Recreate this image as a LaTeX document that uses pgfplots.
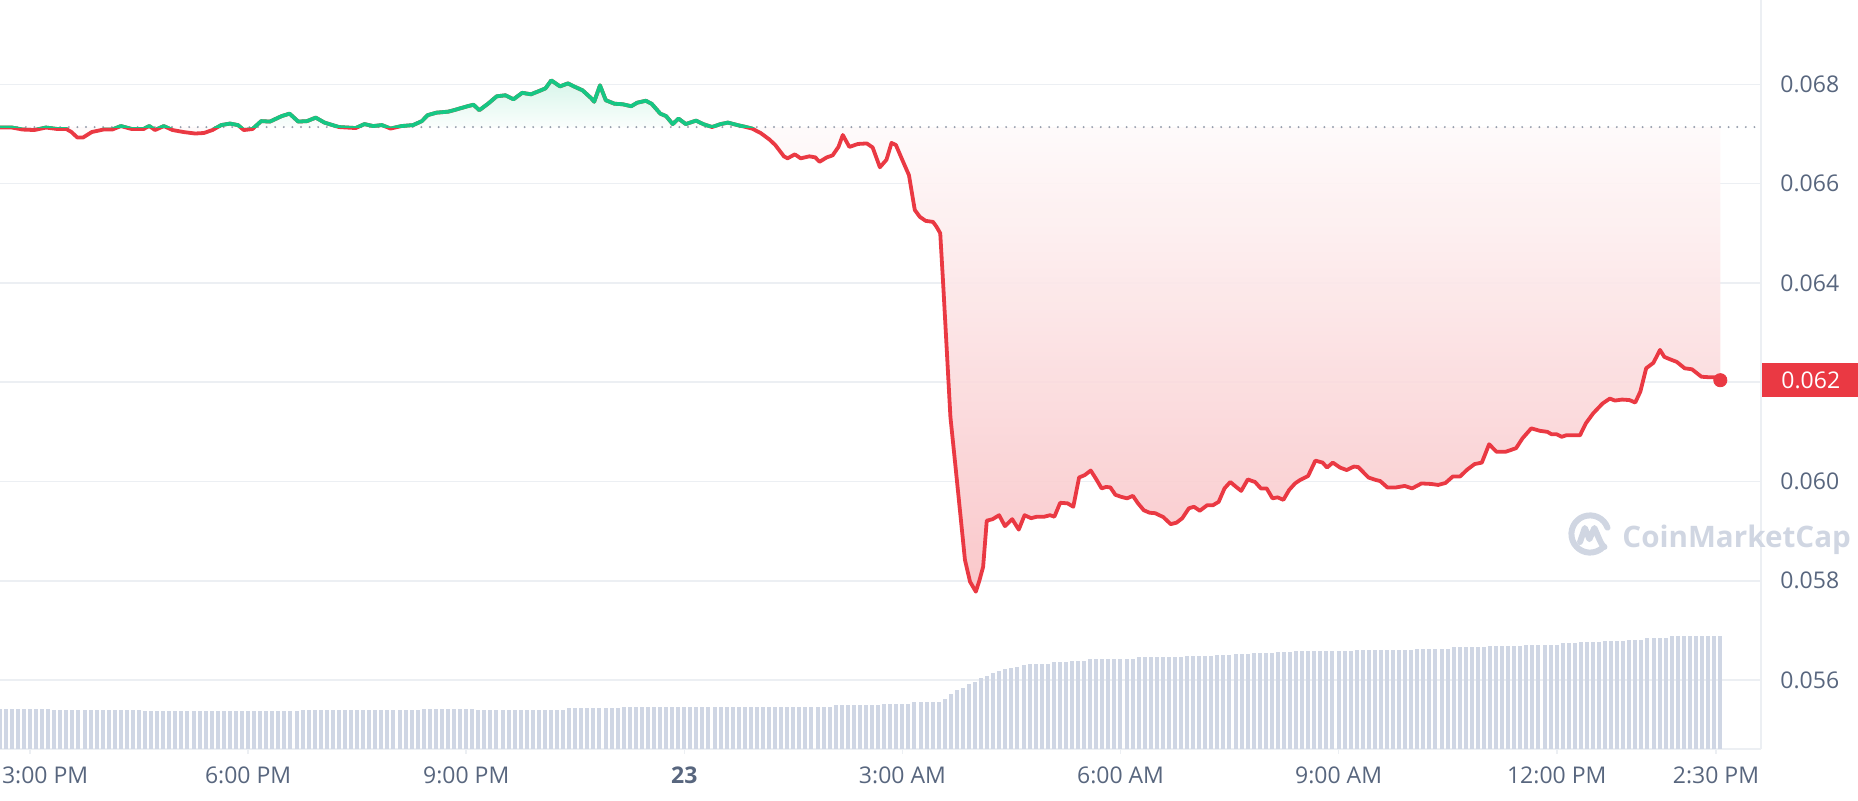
\documentclass[border=0pt]{standalone}
\usepackage{pgfplots}
\pgfplotsset{compat=1.18}
\usepackage{pgfplotstable}
\usepackage{fontspec}
\setmainfont{Open Sans}
\definecolor{cmcred}{RGB}{234,57,67}
\definecolor{cmcgreen}{RGB}{22,199,132}
\definecolor{cmcgray}{RGB}{88,102,126}
\definecolor{cmcgrid}{RGB}{236,239,243}
\definecolor{cmcvol}{RGB}{207,214,228}
\definecolor{cmcdot}{RGB}{150,158,172}
\definecolor{cmcwm}{RGB}{208,214,226}

\pgfplotstableread{
h p
-0.42 0.06713
-0.25 0.06713
-0.10 0.06709
0.06 0.06708
0.22 0.06713
0.38 0.06710
0.50 0.06710
0.57 0.06704
0.65 0.06693
0.73 0.06693
0.85 0.06704
1.01 0.06709
1.13 0.06709
1.25 0.06716
1.40 0.06710
1.56 0.06710
1.64 0.06716
1.72 0.06708
1.84 0.06716
1.96 0.06708
2.11 0.06704
2.27 0.06701
2.39 0.06702
2.51 0.06708
2.63 0.06718
2.75 0.06721
2.86 0.06718
2.94 0.06708
3.06 0.06710
3.18 0.06726
3.30 0.06725
3.46 0.06736
3.57 0.06741
3.69 0.06725
3.81 0.06726
3.93 0.06733
4.05 0.06723
4.25 0.06714
4.48 0.06712
4.60 0.06720
4.72 0.06716
4.84 0.06718
4.96 0.06711
5.11 0.06716
5.27 0.06718
5.39 0.06726
5.47 0.06738
5.59 0.06743
5.75 0.06745
5.83 0.06748
5.90 0.06751
6.02 0.06756
6.10 0.06759
6.18 0.06748
6.30 0.06761
6.42 0.06776
6.54 0.06778
6.65 0.06770
6.77 0.06783
6.89 0.06780
7.01 0.06787
7.09 0.06792
7.17 0.06808
7.29 0.06796
7.40 0.06802
7.48 0.06796
7.60 0.06788
7.72 0.06772
7.76 0.06765
7.84 0.06798
7.92 0.06768
8.04 0.06761
8.15 0.06760
8.27 0.06756
8.35 0.06763
8.47 0.06767
8.55 0.06761
8.67 0.06741
8.75 0.06736
8.84 0.06720
8.92 0.06731
9.02 0.06720
9.16 0.06727
9.26 0.06720
9.38 0.06714
9.50 0.06720
9.60 0.06723
9.73 0.06718
9.85 0.06714
9.93 0.06711
10.05 0.06702
10.17 0.06689
10.25 0.06678
10.37 0.06655
10.42 0.06651
10.52 0.06659
10.60 0.06651
10.72 0.06655
10.80 0.06653
10.86 0.06644
10.96 0.06653
11.04 0.06657
11.12 0.06674
11.18 0.06698
11.27 0.06674
11.39 0.06680
11.51 0.06681
11.59 0.06673
11.69 0.06633
11.78 0.06648
11.85 0.06682
11.91 0.06678
11.98 0.06654
12.09 0.06617
12.14 0.06573
12.17 0.06547
12.24 0.06533
12.32 0.06525
12.42 0.06523
12.47 0.06513
12.52 0.06500
12.56 0.06399
12.61 0.06265
12.66 0.06130
12.73 0.06030
12.80 0.05929
12.86 0.05842
12.93 0.05798
13.01 0.05778
13.06 0.05801
13.11 0.05828
13.16 0.05921
13.24 0.05924
13.33 0.05932
13.41 0.05910
13.51 0.05924
13.60 0.05903
13.68 0.05932
13.77 0.05926
13.85 0.05929
13.95 0.05929
14.03 0.05932
14.09 0.05929
14.17 0.05957
14.27 0.05956
14.35 0.05949
14.43 0.06008
14.51 0.06013
14.59 0.06022
14.66 0.06006
14.74 0.05986
14.80 0.05989
14.86 0.05988
14.93 0.05973
15.01 0.05969
15.09 0.05966
15.17 0.05971
15.24 0.05956
15.32 0.05942
15.40 0.05937
15.48 0.05936
15.59 0.05928
15.69 0.05914
15.77 0.05917
15.85 0.05926
15.94 0.05946
16.01 0.05949
16.09 0.05941
16.19 0.05952
16.27 0.05952
16.35 0.05959
16.43 0.05986
16.51 0.05999
16.59 0.05989
16.66 0.05981
16.75 0.06004
16.85 0.05999
16.93 0.05986
17.01 0.05986
17.09 0.05966
17.16 0.05968
17.24 0.05963
17.32 0.05983
17.40 0.05996
17.47 0.06003
17.58 0.06011
17.68 0.06042
17.78 0.06038
17.84 0.06028
17.92 0.06038
18.02 0.06028
18.11 0.06023
18.21 0.06030
18.27 0.06029
18.41 0.06008
18.51 0.06003
18.57 0.06001
18.67 0.05988
18.79 0.05988
18.91 0.05991
19.01 0.05986
19.14 0.05996
19.27 0.05995
19.37 0.05993
19.47 0.05997
19.57 0.06010
19.67 0.06010
19.77 0.06024
19.87 0.06035
19.97 0.06038
20.07 0.06075
20.17 0.06060
20.30 0.06060
20.44 0.06067
20.53 0.06087
20.65 0.06107
20.77 0.06102
20.87 0.06100
20.93 0.06095
21.00 0.06095
21.07 0.06090
21.13 0.06093
21.23 0.06093
21.32 0.06093
21.40 0.06117
21.50 0.06137
21.63 0.06157
21.73 0.06167
21.80 0.06163
21.90 0.06165
22.00 0.06164
22.08 0.06159
22.15 0.06181
22.23 0.06228
22.33 0.06239
22.42 0.06265
22.48 0.06251
22.56 0.06246
22.65 0.06241
22.76 0.06228
22.86 0.06226
22.99 0.06211
23.09 0.06210
23.17 0.06210
23.25 0.06204
}\price

\pgfplotsset{
  cmcbase/.style={at={(0,0)}, anchor=south west, scale only axis,
    width=880.5pt, height=374.5pt, xmin=-0.413, xmax=23.81},
  cmcline/.style={line width=1.9pt, line join=round, line cap=round},
}

\begin{document}
\begin{tikzpicture}
% ---------------- frame, grid and ticks ----------------
\begin{axis}[
  cmcbase, ymin=0.05461, ymax=0.06970,
  axis x line*=bottom, axis y line*=right,
  axis line style={draw=cmcgrid, line width=0.8pt, -},
  ymajorgrids, grid style={draw=cmcgrid, line width=0.8pt},
  ytick={0.056,0.058,0.060,0.062,0.064,0.066,0.068},
  yticklabels={0.056,0.058,0.060,0.062,0.064,0.066,0.068},
  xtick={0,3,6,9,12,15,18,21,23.19},
  xticklabels={\makebox[0pt][l]{\hspace*{-14pt}3:00 PM},6:00 PM,9:00 PM,\textbf{23},3:00 AM,6:00 AM,9:00 AM,12:00 PM,2:30 PM},
  ytick style={draw=none},
  xtick style={draw=cmcgrid, line width=0.8pt},
  tick align=outside, major tick length=2.5pt,
  tick label style={font=\fontsize{11.5}{13}\selectfont, text=cmcgray},
  yticklabel style={anchor=west, inner sep=0pt, xshift=7pt},
  xticklabel style={anchor=north, inner sep=0pt, yshift=-6pt},
]
\addplot[draw=none] coordinates {(0,0.06)};
\end{axis}
% ---------------- red area (below the opening price) ----------------
\begin{axis}[cmcbase, hide axis, height=310.97pt, ymin=0.05461, ymax=0.06714]
\addplot[draw=none, fill opacity=0.9, top color=white, bottom color=cmcred!31!white]
  table[x=h,y=p]{\price} -- (axis cs:23.25,0.06714) -- (axis cs:-0.42,0.06714) -- cycle;
\end{axis}
% ---------------- green area (above the opening price) ----------------
\begin{axis}[cmcbase, hide axis, at={(0,310.97pt)}, height=63.53pt, ymin=0.06714, ymax=0.06970]
\addplot[draw=none, top color=cmcgreen!17!white, bottom color=white, restrict x to domain=2.39:10.05]
  table[x=h,y=p]{\price} -- (axis cs:10.05,0.06714) -- (axis cs:2.39,0.06714) -- cycle;
\end{axis}
% ---------------- volume ----------------
\begin{axis}[
  at={(0,0)}, anchor=south west, scale only axis, hide axis,
  width=880.5pt, height=374.5pt,
  xmin=0.05, xmax=290.74, ymin=0, ymax=749,
]
\addplot[ycomb, draw=cmcvol, line width=2pt, no marks] coordinates {
(0,40)(1,40)(2,40)(3,40)(4,40)(5,40)(6,40)(7,40)(8,40)
(9,39)(10,39)(11,39)(12,39)(13,39)(14,39)(15,39)(16,39)(17,39)(18,39)(19,39)(20,39)(21,39)(22,39)(23,39)
(24,38)(25,38)(26,38)(27,38)(28,38)(29,38)(30,38)(31,38)(32,38)(33,38)(34,38)(35,38)(36,38)(37,38)(38,38)(39,38)(40,38)(41,38)(42,38)(43,38)(44,38)(45,38)(46,38)(47,38)(48,38)(49,38)
(50,39)(51,39)(52,39)(53,39)(54,39)(55,39)(56,39)(57,39)(58,39)(59,39)(60,39)(61,39)(62,39)(63,39)(64,39)(65,39)(66,39)(67,39)(68,39)(69,39)
(70,40)(71,40)(72,40)(73,40)(74,40)(75,40)(76,40)(77,40)(78,40)
(79,39.5)(80,39.5)(81,39.5)(82,39.5)(83,39.5)(84,39.5)(85,39.5)(86,39.5)(87,39.5)(88,39.5)(89,39.5)(90,39.5)(91,39.5)(92,39.5)(93,39.5)
(94,41)(95,41)(96,41)(97,41)(98,41)(99,41)(100,41)(101,41)(102,41)
(103,42)(104,42)(105,42)(106,42)(107,42)(108,42)(109,42)(110,42)(111,42)(112,42)(113,42)(114,42)(115,42)(116,42)(117,42)(118,42)(119,42)(120,42)(121,42)(122,42)(123,42)(124,42)(125,42)(126,42)(127,42)(128,42)(129,42)(130,42)(131,42)(132,42)(133,42)(134,42)(135,42)(136,42)(137,42)
(138,44)(139,44)(140,44)(141,44)(142,44)(143,44)(144,44)(145,44)
(146,45)(147,45)(148,45)(149,45)(150,45)
(151,47)(152,47)(153,47)(154,47)(155,47)
(156,50)(157,55)(158,59)(159,61)(160,65)(161,67)(162,71)(163,73)(164,76)(165,78)(166,80)(167,81)(168,82)(169,84)(170,85)
(171,85)(172,85)(173,85)
(174,87)(175,87)(176,87)
(177,88)(178,88)(179,88)
(180,90)(181,90)(182,90)(183,90)(184,90)(185,90)(186,90)(187,90)
(188,92)(189,92)(190,92)(191,92)(192,92)(193,92)(194,92)(195,92)
(196,93)(197,93)(198,93)(199,93)(200,93)
(201,94)(202,94)(203,94)
(204,95)(205,95)(206,95)
(207,96)(208,96)(209,96)(210,96)
(211,97)(212,97)(213,97)
(214,98)(215,98)(216,98)(217,98)(218,98)(219,98)(220,98)(221,98)(222,98)(223,98)
(224,99)(225,99)(226,99)(227,99)(228,99)(229,99)(230,99)(231,99)(232,99)(233,99)
(234,100)(235,100)(236,100)(237,100)(238,100)(239,100)
(240,102)(241,102)(242,102)(243,102)(244,102)(245,102)
(246,103)(247,103)(248,103)(249,103)(250,103)(251,103)
(252,104)(253,104)(254,104)(255,104)(256,104)(257,104)
(258,106)(259,106)(260,106)
(261,107)(262,107)(263,107)(264,107)
(265,108)(266,108)(267,108)(268,108)
(269,109)(270,109)(271,109)
(272,111)(273,111)(274,111)(275,111)
(276,113)(277,113)(278,113)(279,113)(280,113)(281,113)(282,113)(283,113)(284,113)
};
\end{axis}
% ---------------- opening-price line and red price line ----------------
\begin{axis}[cmcbase, hide axis, ymin=0.05461, ymax=0.06970, clip mode=individual]
\addplot[cmcdot, line width=1.1pt, line cap=round, dash pattern=on 0pt off 4.3pt]
  coordinates {(-0.413,0.06714)(23.81,0.06714)};
\addplot[cmcred, cmcline] table[x=h,y=p]{\price};
\addplot[only marks, mark=*, mark size=3.3pt, mark options={draw=cmcred, fill=cmcred}]
  coordinates {(23.25,0.06204)};
\coordinate (lastpt) at (axis cs:23.25,0.06204);
\end{axis}
% ---------------- green part of the line ----------------
\begin{axis}[cmcbase, hide axis, at={(0,310.97pt)}, height=63.53pt, ymin=0.06714, ymax=0.06970]
\addplot[cmcgreen, cmcline] table[x=h,y=p]{\price};
\end{axis}
% ---------------- price tag ----------------
\coordinate (rightpt) at (881pt,0);
\node[anchor=west, fill=cmcred, text=white, inner xsep=9.5pt, inner ysep=0pt,
      minimum height=17pt, font=\fontsize{11.5}{13}\selectfont] at (lastpt -| rightpt) {0.062};
% ---------------- watermark ----------------
\node[anchor=base west, text=cmcwm, inner sep=0pt, font=\fontsize{14.8}{16}\selectfont\bfseries]
  at (811pt,101pt) {CoinMarketCap};
\begin{scope}[shift={(795pt,107.5pt)}, draw=cmcwm, line width=3pt, line cap=round, line join=round]
  \draw (20:9.3pt) arc[start angle=20, end angle=318, radius=9.3pt];
  \draw (-5pt,-4pt) -- (-2.6pt,3pt) -- (-0.3pt,-2.6pt) -- (2.2pt,3pt) -- (4.2pt,-1.6pt)
        .. controls (5.2pt,-4pt) and (6.2pt,-6pt) .. (7.2pt,-6.5pt);
\end{scope}
\pgfresetboundingbox
\path[use as bounding box] (0,-25.5pt) rectangle (929pt,374.5pt);
\end{tikzpicture}
\end{document}
